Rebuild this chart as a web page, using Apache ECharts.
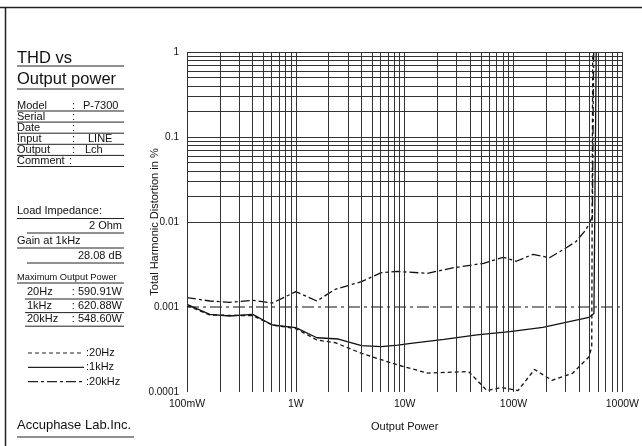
<!DOCTYPE html>
<html><head><meta charset="utf-8">
<script src="https://cdn.jsdelivr.net/npm/echarts@6/dist/echarts.min.js"></script>
<style>html,body{margin:0;padding:0;background:#fff}#c{width:642px;height:446px}</style>
</head><body><div id="c"></div>
<script>
// ---- data ----
const power20Hz = [0.1,0.162,0.401,0.609,1.0,1.56,2.30,4.01,8.64,16.2,38.7,56.9,77.8,110,156,226,349,494,523,534];
const thd20Hz   = [0.00104,0.000805,0.00079,0.000614,0.000556,0.000409,0.00038,0.000285,0.000208,0.000167,0.000174,0.000104,0.000113,0.000104,0.000184,0.000137,0.000166,0.00026,0.000341,1];
const power1kHz = [0.1,0.162,0.246,0.401,0.609,1.0,1.56,2.46,4.01,6.09,8.64,11.4,23.0,46.1,92.5,186,325,494,548,575];
const thd1kHz   = [0.001076,0.00082,0.000784,0.00082,0.000614,0.000571,0.000435,0.00042,0.000351,0.000341,0.000357,0.000374,0.000417,0.000469,0.000512,0.000577,0.000671,0.000757,0.000839,1];
const power20kHz = [0.1,0.162,0.246,0.401,0.609,1.0,1.56,2.30,4.01,6.09,8.64,16.2,28.3,53.1,80.6,106,151,214,283,374,461,530,545];
const thd20kHz   = [0.001287,0.001177,0.001135,0.001199,0.001114,0.001514,0.001177,0.001615,0.001986,0.002535,0.002618,0.002491,0.002899,0.003267,0.003845,0.003451,0.004169,0.003802,0.004688,0.005866,0.008054,0.01145,1];
const powerRef = [0.1,1000];
const thdRef   = [0.001,0.001];
const xTickValues = [0.1,1,10,100,1000];
const xTickLabels = ['100mW','1W','10W','100W','1000W'];
const yTickValues = [0.0001,0.001,0.01,0.1,1];
const yTickLabels = ['0.0001','0.001','0.01','0.1','1'];
const infoRows = [['Model',':','P-7300'],['Serial',':',''],['Date',':',''],['Input',':','LINE'],['Output',':','Lch'],['Comment',':','']];
const maxPowerRows = [['20Hz',': 590.91W'],['1kHz',': 620.88W'],['20kHz',': 548.60W']];
const legendRows = [[':20Hz',[4,3]],[':1kHz',null],[':20kHz',[10,3,3,3]]];

const FONT = '"Liberation Sans", Arial, Helvetica, sans-serif';
const zip = (a,b)=>a.map((v,i)=>[v,b[i]]);

// grid lines at 1..9 per decade, taken from the axis tick values
const gx = [], gy = [];
for (let d=0; d<xTickValues.length; d++){ for (let m=1;m<10;m++){ const v=xTickValues[d]*m; if (v<=xTickValues[xTickValues.length-1]*1.0001) gx.push(v);} }
for (let d=0; d<yTickValues.length; d++){ for (let m=1;m<10;m++){ const v=yTickValues[d]*m; if (v<=yTickValues[yTickValues.length-1]*1.0001) gy.push(v);} }
const gridMark = gx.map(v=>({xAxis:v})).concat(gy.map(v=>({yAxis:v})));

const chart = echarts.init(document.getElementById('c'), null, {renderer:'canvas'});

const graphics = [];
const txt = (text,x,y,size,align)=>graphics.push({type:'text',x:x,y:y,style:{text:text,font:size+'px '+FONT,fill:'#111',align:align||'left',verticalAlign:'middle'}});
const line = (x1,y1,x2,y2,w,dash)=>graphics.push({type:'line',shape:{x1:x1,y1:y1,x2:x2,y2:y2},style:{stroke:'#222',lineWidth:w||1,lineDash:dash||null}});

// frame
line(0,7.5,642,7.5,1.5);
line(5.5,7,5.5,446,1.5);

txt('THD vs',17,58,16.5);
line(17,66,124,66,1);
txt('Output power',17,79,16.5);
line(17,89,124,89,1);
infoRows.forEach((r,i)=>{
  const y=105.5+i*11.1;
  txt(r[0],17,y,11);
  txt(r[1], r[0]==='Comment'?69:72, y,11);
  if (r[2]) txt(r[2], r[2]==='P-7300'?83:(r[2]==='LINE'?88:85), y,11);
  line(17,y+5.5,124,y+5.5,1);
});
txt('Load Impedance:',17,211,11);
line(17,218.5,124,218.5,1);
txt('2 Ohm',122,226,11,'right');
line(27,233,124,233,1);
txt('Gain at 1kHz',17,241,11);
line(17,248,124,248,1);
txt('28.08 dB',122,256,11,'right');
line(27,263,124,263,1);
txt('Maximum Output Power',17,277,9.3);
line(17,283,124,283,1);
maxPowerRows.forEach((r,i)=>{
  const y=292+i*13.6;
  txt(r[0],27,y,11);
  txt(r[1],122,y,11,'right');
  line(25,y+7,124,y+7,1);
});
legendRows.forEach((r,i)=>{
  const y=353+i*14.3;
  line(28,y,84,y,1.2,r[1]);
  txt(r[0],86,y,11);
});
txt('Accuphase Lab.Inc.',17,425,13);
line(17,437,134,437,1);

const curveStyle = (dash)=>({color:'#111',width:1.3,type:dash||'solid'});

chart.setOption({
  animation:false,
  backgroundColor:'#fff',
  grid:{left:187,right:16,top:52,bottom:54,show:false},
  xAxis:{type:'log',logBase:10,min:0.1,max:1000,
    name:'Output Power',nameLocation:'middle',nameGap:29,nameMoveOverlap:false,
    nameTextStyle:{fontFamily:FONT,fontSize:11,color:'#111'},
    axisLine:{show:false},axisTick:{show:false},splitLine:{show:false},
    axisLabel:{fontFamily:FONT,fontSize:10.5,color:'#111',margin:7,
      formatter:v=>{const i=xTickValues.findIndex(t=>Math.abs(Math.log10(t)-Math.log10(v))<1e-6);return i>=0?xTickLabels[i]:'';}}},
  yAxis:{type:'log',logBase:10,min:0.0001,max:1,
    name:'Total Harmonic Distortion in %',nameLocation:'middle',nameGap:27,nameRotate:90,nameMoveOverlap:false,
    nameTextStyle:{fontFamily:FONT,fontSize:11,color:'#111'},
    axisLine:{show:false},axisTick:{show:false},splitLine:{show:false},
    axisLabel:{fontFamily:FONT,fontSize:10,color:'#111',margin:8,
      formatter:v=>{const i=yTickValues.findIndex(t=>Math.abs(Math.log10(t)-Math.log10(v))<1e-6);return i>=0?yTickLabels[i]:'';}}},
  graphic:graphics,
  series:[
    {type:'line',name:'grid',data:[],silent:true,z:1,
      markLine:{silent:true,symbol:['none','none'],label:{show:false},animation:false,
        lineStyle:{color:'#333',width:1,type:'solid'},emphasis:{disabled:true},data:gridMark}},
    {type:'line',name:'ref',data:zip(powerRef,thdRef),showSymbol:false,z:3,lineStyle:{color:'#111',width:1.1,type:[12,4,3,4]}},
    {type:'line',name:'20Hz',data:zip(power20Hz,thd20Hz),showSymbol:false,z:3,lineStyle:curveStyle([4,3])},
    {type:'line',name:'1kHz',data:zip(power1kHz,thd1kHz),showSymbol:false,z:3,lineStyle:curveStyle()},
    {type:'line',name:'20kHz',data:zip(power20kHz,thd20kHz),showSymbol:false,z:3,lineStyle:curveStyle([9,3,3,3])}
  ]
});
</script></body></html>
